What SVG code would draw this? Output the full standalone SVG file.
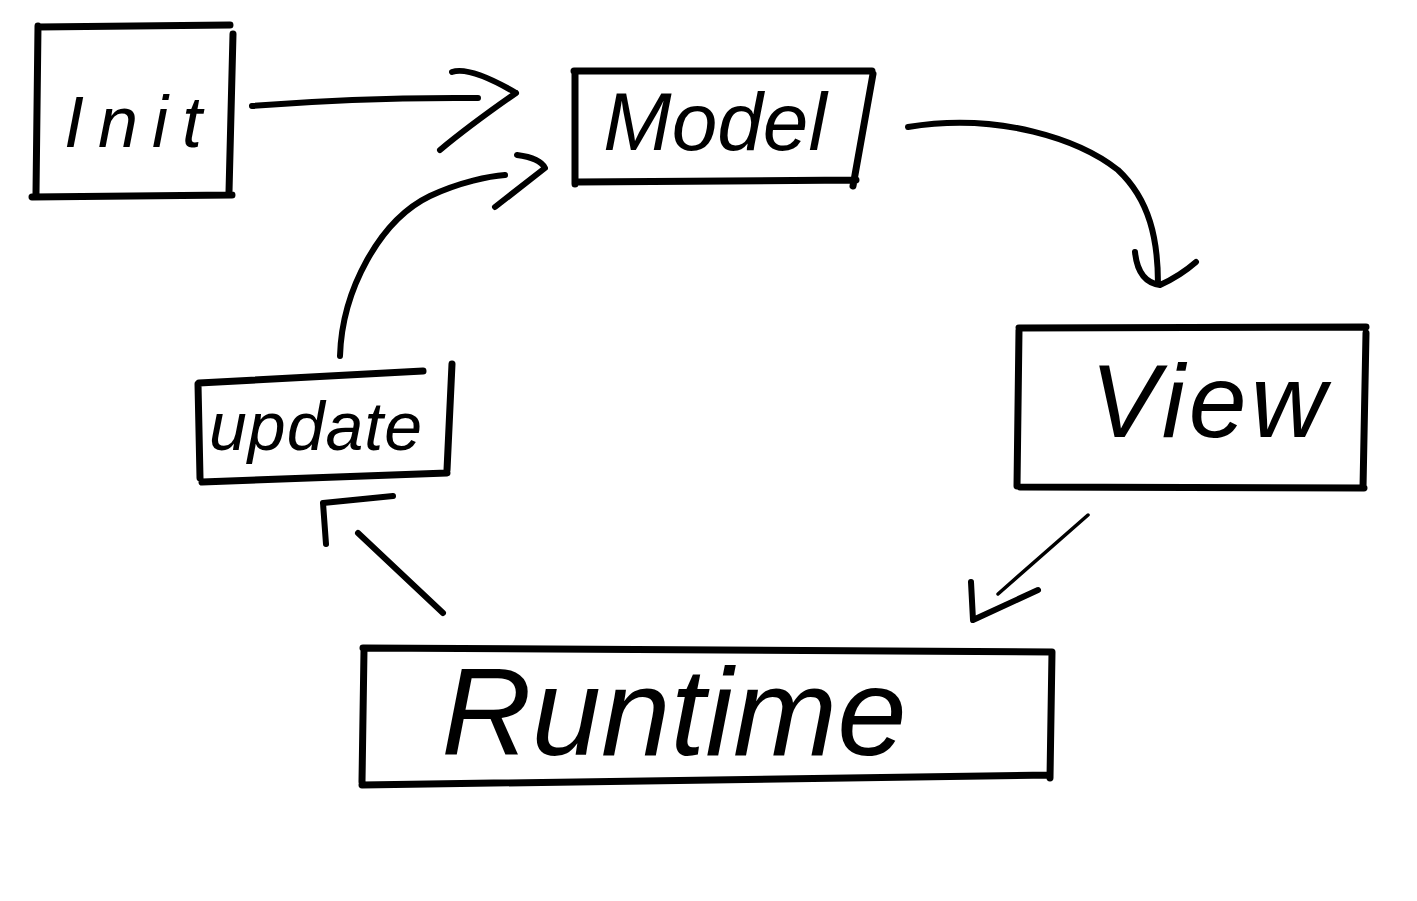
<svg xmlns="http://www.w3.org/2000/svg" width="1417" height="901" viewBox="0 0 1417 901">
<style>
.box{fill:none;stroke:#000;stroke-width:7;stroke-linecap:round;stroke-linejoin:round}
.con{fill:none;stroke:#000;stroke-width:6;stroke-linecap:round;stroke-linejoin:round}
.thin{fill:none;stroke:#000;stroke-width:3.5;stroke-linecap:round;stroke-linejoin:round}
.lbl{font-family:"Liberation Sans","DejaVu Sans",sans-serif;fill:#000;text-anchor:middle;font-style:italic}
</style>
<rect width="1417" height="901" fill="#fff"/>
<g id="init">
<path class="box" d="M38 27 L230 25 M233 34 L229 192 M32 197 L232 195 M38 26 L36 193"/>
<text class="lbl" x="140" y="147" font-size="72" letter-spacing="14">Init</text>
</g>
<g id="model">
<path class="box" d="M574 71 L872 71 M873 74 L853 186 M578 182 L856 180 M575 73 L575 184"/>
<text class="lbl" x="715" y="150" font-size="82">Model</text>
</g>
<g id="view">
<path class="box" d="M1019 328 L1366 327 M1366 333 L1363 488 M1020 487 L1364 488 M1019 330 L1017 486"/>
<text class="lbl" x="1210" y="437" font-size="104" letter-spacing="4">View</text>
</g>
<g id="update">
<path class="box" d="M199 383 L423 371 M452 364 L447 470 M202 482 L447 473 M198 384 L200 478"/>
<text class="lbl" x="316" y="450" font-size="68" letter-spacing="1">update</text>
</g>
<g id="runtime">
<path class="box" d="M363 648 L1052 652 M1052 652 L1050 778 M362 785 L1050 775 M364 650 L362 782"/>
<text class="lbl" x="674" y="755" font-size="125">Runtime</text>
</g>
<g id="connectors">
<path class="con" d="M252 106 Q360 97 478 98"/>
<path class="con" d="M452 72 Q470 66 516 93 M516 93 Q470 125 440 150"/>
<path class="con" d="M908 127 C1000 112 1080 140 1118 170 C1150 200 1158 240 1158 284"/>
<path class="con" d="M1135 252 Q1138 282 1160 285 Q1180 276 1196 262"/>
<path class="thin" d="M1088 515 L998 594"/>
<path class="con" d="M971 582 L973 620 L1038 590"/>
<path class="con" d="M443 613 L358 533"/>
<path class="con" d="M326 544 L323 503 L393 496"/>
<path class="con" d="M340 356 C342 290 380 220 430 196 C460 182 490 176 505 175"/>
<path class="con" d="M517 155 Q540 158 545 168 L495 207"/>
</g>
</svg>
